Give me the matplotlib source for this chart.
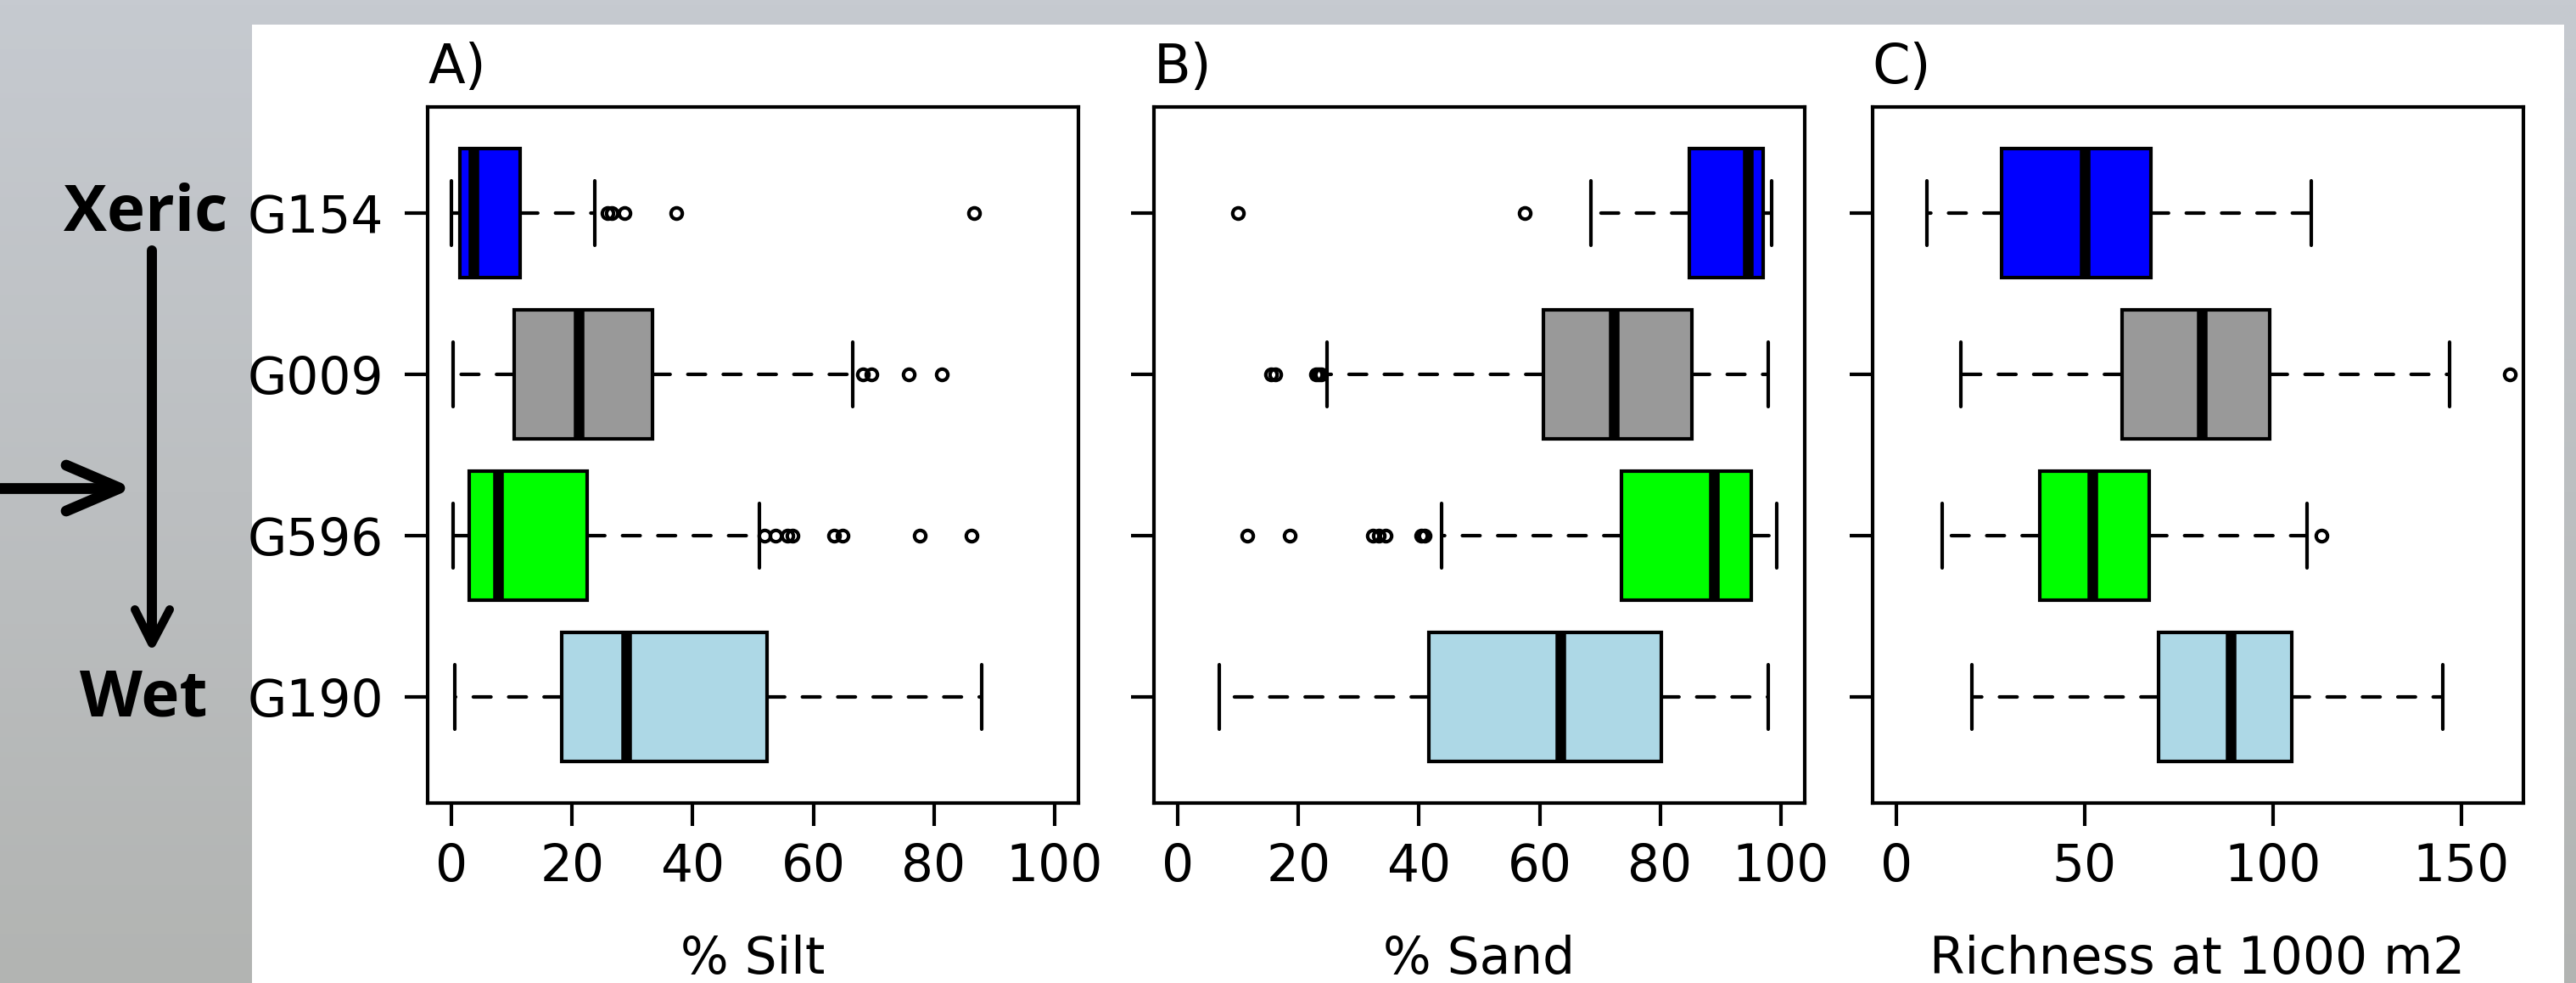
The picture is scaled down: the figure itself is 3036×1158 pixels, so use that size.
import matplotlib
matplotlib.use("Agg")
import matplotlib.pyplot as plt
import numpy as np
from matplotlib.patches import Rectangle

# groups, top to bottom (xeric -> wet)
groups = ["G154", "G009", "G596", "G190"]
colors = ["#0000ff", "#999999", "#00ff00", "#add8e6"]

# % Silt
silt_lo = [0.0, 0.2, 0.2, 0.5]
silt_q1 = [1.4, 10.4, 2.9, 18.2]
silt_med = [3.6, 21.1, 7.7, 29.0]
silt_q3 = [11.3, 33.3, 22.5, 52.3]
silt_hi = [23.7, 66.6, 51.1, 88.0]
silt_out = [[25.9, 26.5, 28.6, 37.3, 86.7],
            [68.3, 69.6, 75.8, 81.3],
            [51.9, 53.8, 55.7, 56.6, 63.5, 64.9, 77.6, 86.3],
            []]

# % Sand
sand_lo = [68.5, 24.7, 43.8, 6.9]
sand_q1 = [84.8, 60.7, 73.6, 41.6]
sand_med = [94.5, 72.3, 88.9, 63.5]
sand_q3 = [97.1, 85.3, 95.1, 80.2]
sand_hi = [98.5, 97.9, 99.4, 97.9]
sand_out = [[9.9, 57.6],
            [15.4, 16.2, 22.9, 23.3, 23.8],
            [11.5, 18.5, 32.3, 33.3, 34.4, 40.4, 40.9],
            []]

# Richness at 1000 m2
rich_lo = [8.2, 17.2, 12.1, 20.0]
rich_q1 = [28.0, 60.0, 38.1, 69.6]
rich_med = [50.0, 81.1, 52.1, 88.8]
rich_q3 = [67.6, 99.2, 67.2, 105.0]
rich_hi = [110.1, 147.0, 109.1, 145.1]
rich_out = [[], [163.0], [113.0], []]

silt_ticks = [0, 20, 40, 60, 80, 100]
sand_ticks = [0, 20, 40, 60, 80, 100]
rich_ticks = [0, 50, 100, 150]

W, H = 3036, 1158
fig = plt.figure(figsize=(W / 200, H / 200), dpi=200)

# background (grey photo-ish) + white panel
bg = fig.add_axes([0, 0, 1, 1], zorder=-10)
top = np.array([198, 202, 208]) / 255
bot = np.array([178, 180, 178]) / 255
t = np.linspace(0, 1, 200)[:, None, None]
grad = np.repeat(top * (1 - t) + bot * t, 2, axis=1)
bg.imshow(grad, extent=(0, W, H, 0), aspect="auto")
bg.add_patch(Rectangle((297, 29), 2725, H - 29, facecolor="white", edgecolor="none"))
bg.set_xlim(0, W)
bg.set_ylim(H, 0)
bg.axis("off")

# xeric -> wet arrows and labels
akw = dict(color="black", solid_capstyle="round", solid_joinstyle="round")
bg.plot([179, 179], [295, 754], lw=4.3, **akw)
bg.plot([159, 179, 200], [718, 758, 718], lw=3.6, **akw)
bg.plot([0, 138], [575, 575], lw=4.6, **akw)
bg.plot([78, 141, 78], [548, 575, 602], lw=4.6, **akw)
bg.text(172, 271, "Xeric", fontsize=27.5, fontweight="bold", family="Open Sans",
        ha="center", va="baseline")
bg.text(169, 843, "Wet", fontsize=27.5, fontweight="bold", family="Open Sans",
        ha="center", va="baseline")

panels = [
    ("A)", "% Silt", silt_lo, silt_q1, silt_med, silt_q3, silt_hi, silt_out,
     silt_ticks, (-4, 104), 504),
    ("B)", "% Sand", sand_lo, sand_q1, sand_med, sand_q3, sand_hi, sand_out,
     sand_ticks, (-4, 104), 1360),
    ("C)", "Richness at 1000 m2", rich_lo, rich_q1, rich_med, rich_q3, rich_hi,
     rich_out, rich_ticks, (-6.4, 166.4), 2206.5),
]

lw = 1.5
for i, (tag, xlabel, lo, q1, med, q3, hi, out, ticks, xlim, left) in enumerate(panels):
    ax = fig.add_axes([left / W, (H - 946) / H, 767 / W, 820 / H])
    stats = []
    for k in range(len(groups)):
        stats.append(dict(whislo=lo[k], q1=q1[k], med=med[k], q3=q3[k],
                          whishi=hi[k], fliers=out[k], label=groups[k]))
    res = ax.bxp(stats, positions=range(1, len(groups) + 1), widths=0.8,
                 orientation="horizontal", patch_artist=True,
                 boxprops=dict(linewidth=lw, edgecolor="black"),
                 whiskerprops=dict(linewidth=lw, linestyle=(0, (5, 5)),
                                   dash_capstyle="round"),
                 capprops=dict(linewidth=lw, solid_capstyle="round"),
                 capwidths=0.4,
                 medianprops=dict(linewidth=4.5, color="black", solid_capstyle="butt"),
                 flierprops=dict(marker="o", markersize=4.8, markerfacecolor="none",
                                 markeredgecolor="black", markeredgewidth=lw))
    for patch, c in zip(res["boxes"], colors):
        patch.set_facecolor(c)
    ax.set_xlim(*xlim)
    ax.set_ylim(4.66, 0.34)
    ax.set_xticks(ticks)
    ax.set_yticks(range(1, len(groups) + 1))
    if i == 0:
        ax.set_yticklabels(groups)
    else:
        ax.set_yticklabels([])
    for s in ax.spines.values():
        s.set_linewidth(lw)
    ax.tick_params(axis="x", length=9.7, width=lw, labelsize=21.5, pad=7)
    ax.tick_params(axis="y", length=9.7, width=lw, labelsize=21.5, pad=9)
    ax.set_xlabel(xlabel, fontsize=21.5, labelpad=18)
    ax.set_title(tag, loc="left", fontsize=23, pad=10)

fig.savefig("out.png", dpi=200)
